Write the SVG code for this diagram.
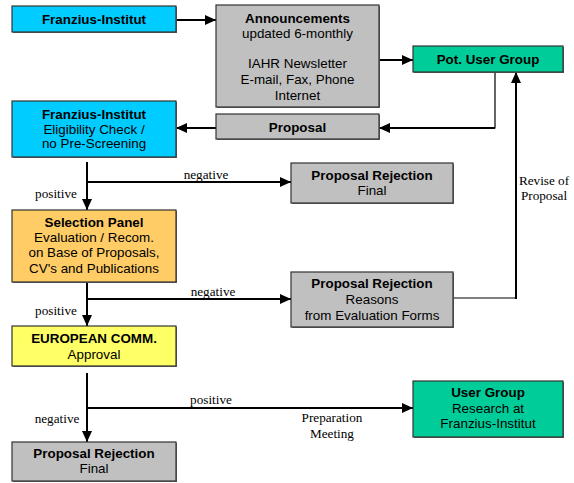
<svg xmlns="http://www.w3.org/2000/svg" width="574" height="483" viewBox="0 0 574 483">
<defs>
<marker id="ah" markerUnits="userSpaceOnUse" markerWidth="12" markerHeight="10" refX="11" refY="5" orient="auto">
<path d="M0,0 L11,5 L0,10 Z" fill="#000"/>
</marker>
</defs>
<style>
.box{stroke:#333;stroke-width:1.2}
.sh{fill:#666}
.cyan{fill:#00CCFF}.gray{fill:#C0C0C0}.green{fill:#00CC99}.orange{fill:#FFCC66}.yellow{fill:#FFFF66}
text{font-family:"Liberation Sans",Arial,sans-serif;font-size:13.4px;fill:#000;text-anchor:middle}
.b{font-weight:bold}
.lbl{font-family:"Liberation Serif","Times New Roman",serif;font-size:13.2px}
.ln{fill:none;stroke:#000;stroke-width:2}
.thin{fill:none;stroke:#000;stroke-width:1.2}
</style>
<rect width="574" height="483" fill="#fff"/>
<g id="connectors">
<line class="ln" x1="176" y1="20" x2="216" y2="20" marker-end="url(#ah)"/>
<line class="ln" x1="379" y1="60" x2="413" y2="60" marker-end="url(#ah)"/>
<polyline class="thin" points="495,72 495,128 440,128"/>
<line class="ln" x1="495" y1="128" x2="379" y2="128" marker-end="url(#ah)"/>
<line class="ln" x1="216" y1="128" x2="176" y2="128" marker-end="url(#ah)"/>
<line class="ln" x1="87" y1="162" x2="87" y2="210" marker-end="url(#ah)"/>
<line class="ln" x1="87" y1="182" x2="291" y2="182" marker-end="url(#ah)"/>
<line class="ln" x1="87" y1="282" x2="87" y2="326" marker-end="url(#ah)"/>
<line class="ln" x1="87" y1="299" x2="291" y2="299" marker-end="url(#ah)"/>
<line class="thin" x1="453" y1="298" x2="516" y2="298"/>
<line class="ln" x1="516" y1="299" x2="516" y2="72" marker-end="url(#ah)"/>
<line class="ln" x1="87" y1="373" x2="87" y2="442" marker-end="url(#ah)"/>
<line class="ln" x1="87" y1="408" x2="413" y2="408" marker-end="url(#ah)"/>
<text class="lbl" x="206" y="179">negative</text>
<text class="lbl" x="56" y="198">positive</text>
<text class="lbl" x="213" y="296">negative</text>
<text class="lbl" x="56" y="315">positive</text>
<text class="lbl" x="211" y="404">positive</text>
<text class="lbl" x="57" y="423">negative</text>
<text class="lbl" x="332" y="422">Preparation</text>
<text class="lbl" x="332" y="438">Meeting</text>
<text class="lbl" x="544" y="185">Revise of</text>
<text class="lbl" x="544" y="200">Proposal</text>
</g>
<g id="franzius1">
<rect class="sh" x="13" y="7" width="164" height="26"/>
<rect class="box cyan" x="12" y="6" width="164" height="26"/>
<text class="b" x="94" y="24">Franzius-Institut</text>
</g>
<g id="announcements">
<rect class="sh" x="217" y="6" width="163" height="102"/>
<rect class="box gray" x="216" y="5" width="163" height="102"/>
<text class="b" x="297.5" y="23">Announcements</text>
<text x="297.5" y="38">updated 6-monthly</text>
<text x="297.5" y="68">IAHR Newsletter</text>
<text x="297.5" y="84">E-mail, Fax, Phone</text>
<text x="297.5" y="100">Internet</text>
</g>
<g id="potusergroup">
<rect class="sh" x="414" y="47" width="150" height="26"/>
<rect class="box green" x="413" y="46" width="150" height="26"/>
<text class="b" x="488" y="64">Pot. User Group</text>
</g>
<g id="proposal">
<rect class="sh" x="217" y="115" width="163" height="25"/>
<rect class="box gray" x="216" y="114" width="163" height="25"/>
<text class="b" x="297.5" y="132">Proposal</text>
</g>
<g id="franzius2">
<rect class="sh" x="13" y="102" width="164" height="56"/>
<rect class="box cyan" x="12" y="101" width="164" height="56"/>
<text class="b" x="94" y="119">Franzius-Institut</text>
<text x="94" y="133.5">Eligibility Check /</text>
<text x="94" y="148">no Pre-Screening</text>
</g>
<g id="rejection1">
<rect class="sh" x="292" y="164" width="162" height="40"/>
<rect class="box gray" x="291" y="163" width="162" height="40"/>
<text class="b" x="372" y="180">Proposal Rejection</text>
<text x="372" y="195">Final</text>
</g>
<g id="selectionpanel">
<rect class="sh" x="13" y="211" width="164" height="72"/>
<rect class="box orange" x="12" y="210" width="164" height="72"/>
<text class="b" x="94" y="227">Selection Panel</text>
<text x="94" y="242">Evaluation / Recom.</text>
<text x="94" y="257">on Base of Proposals,</text>
<text x="94" y="273">CV's and Publications</text>
</g>
<g id="rejection2">
<rect class="sh" x="292" y="273" width="162" height="55"/>
<rect class="box gray" x="291" y="272" width="162" height="55"/>
<text class="b" x="372" y="288">Proposal Rejection</text>
<text x="372" y="304">Reasons</text>
<text x="372" y="320">from Evaluation Forms</text>
</g>
<g id="europeancomm">
<rect class="sh" x="13" y="327" width="164" height="40"/>
<rect class="box yellow" x="12" y="326" width="164" height="40"/>
<text class="b" x="94" y="343">EUROPEAN COMM.</text>
<text x="94" y="359">Approval</text>
</g>
<g id="rejection3">
<rect class="sh" x="13" y="443" width="164" height="39"/>
<rect class="box gray" x="12" y="442" width="164" height="39"/>
<text class="b" x="94" y="458">Proposal Rejection</text>
<text x="94" y="473">Final</text>
</g>
<g id="usergroup">
<rect class="sh" x="414" y="382" width="150" height="56"/>
<rect class="box green" x="413" y="381" width="150" height="56"/>
<text class="b" x="488" y="397">User Group</text>
<text x="488" y="413">Research at</text>
<text x="488" y="428">Franzius-Institut</text>
</g>
</svg>
